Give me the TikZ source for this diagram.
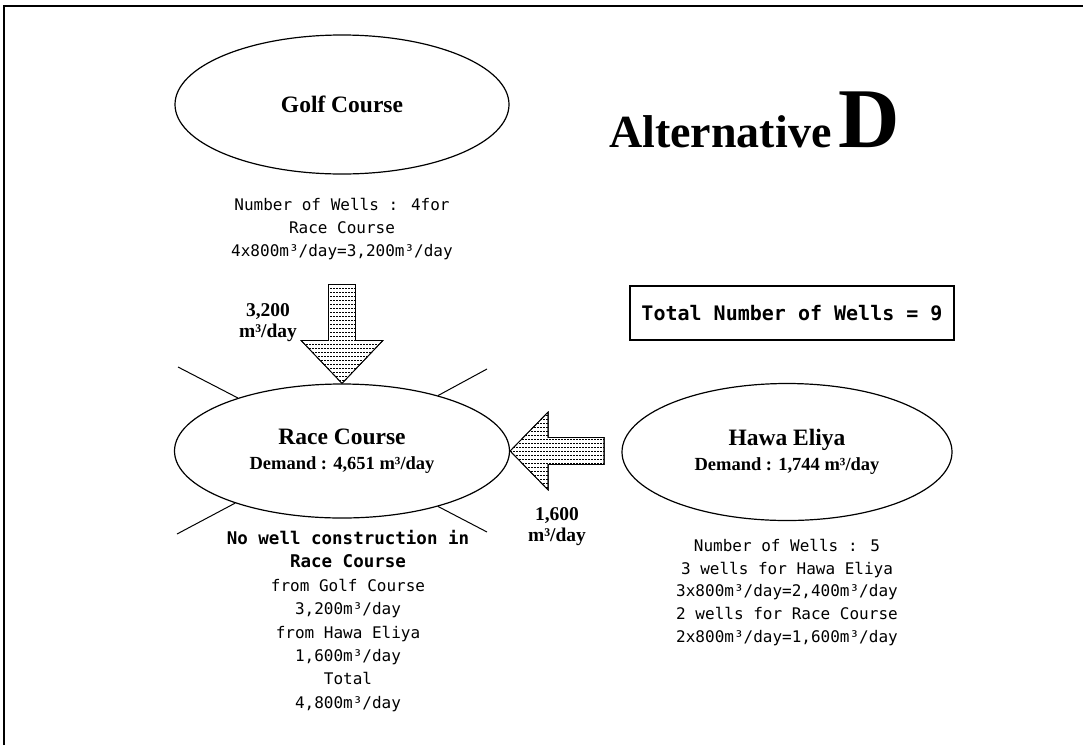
\documentclass[tikz,border=0pt]{standalone}
\usepackage{fontspec}
\usetikzlibrary{shapes.geometric}
\setmainfont{Liberation Serif}
\newfontfamily\gulim{DejaVu Sans Mono}
\begin{document}
\begin{tikzpicture}[x=1pt,y=-1pt,
  place/.style={draw, ellipse, line width=1.2pt, inner sep=0pt, align=center,
    font=\bfseries\fontsize{18.5}{25}\selectfont},
  info/.style={align=center, font=\gulim\fontsize{16}{23.4}\selectfont},
  flowlabel/.style={align=center, font=\bfseries\fontsize{19.5}{21}\selectfont},
  blockarrow/.style={draw, line width=0.8pt, fill=white},
  hatch/.style={line width=0.4pt, dash pattern=on 2pt off 1pt},
  ray/.style={line width=1pt}]
\useasboundingbox (0,0) rectangle (1083,745);

% page frame
\draw[line width=2pt] (4,745) -- (4,6) -- (1083,6);

% heading
\node[anchor=base west, inner sep=0pt] (heading) at (609,147)
  {\bfseries{\fontsize{46}{50}\selectfont Alternative}\hspace{7pt}{\fontsize{85}{90}\selectfont D}};

% sites
\node[place, minimum width=334pt, minimum height=139pt] (golf) at (342,104.5)
  {{\fontsize{23.5}{25}\selectfont Golf Course}};
\node[place, minimum width=335pt, minimum height=134pt] (race) at (342,451)
  {{\fontsize{23.5}{25}\selectfont Race Course}\\
   Demand : 4,651 m³/day};
\node[place, minimum width=330pt, minimum height=137pt] (hawa) at (787,452)
  {{\fontsize{23.5}{25}\selectfont Hawa Eliya}\\
   Demand : 1,744 m³/day};

% well summaries
\node[info] (golfinfo) at (342,229)
  {Number of Wells : 4for\\Race Course\\4x800m³/day=3,200m³/day};
\node[info] (raceinfo) at (348,621)
  {{\bfseries\fontsize{17.5}{23.4}\selectfont No well construction in}\\
   {\bfseries\fontsize{17.5}{23.4}\selectfont Race Course}\\
   from Golf Course\\3,200m³/day\\from Hawa Eliya\\1,600m³/day\\Total\\4,800m³/day};
\node[info, font=\gulim\fontsize{16}{22.8}\selectfont] (hawainfo) at (787,592.5)
  {Number of Wells : 5\\3 wells for Hawa Eliya\\3x800m³/day=2,400m³/day\\
   2 wells for Race Course\\2x800m³/day=1,600m³/day};

% total
\node[draw, line width=1.2pt, minimum width=324pt, minimum height=54pt, inner sep=0pt,
      font=\gulim\bfseries\fontsize{20}{22}\selectfont] (total) at (792,313)
  {Total Number of Wells = 9};

% flow from Golf Course to Race Course
\begin{scope}[shift={(race.north)}]
  \path[blockarrow] (0,0) -- (41,-43) -- (13.5,-43) -- (13.5,-99)
      -- (-13.5,-99) -- (-13.5,-43) -- (-41,-43) -- cycle;
  \begin{scope}
    \clip (0,0) -- (41,-43) -- (13.5,-43) -- (13.5,-99)
      -- (-13.5,-99) -- (-13.5,-43) -- (-41,-43) -- cycle;
    \foreach \k in {1,...,25} \draw[hatch] (-45,-\k*4+1) -- (45,-\k*4+1);
  \end{scope}
  \draw[line width=0.8pt] (0,0) -- (41,-43) -- (13.5,-43) -- (13.5,-99)
      -- (-13.5,-99) -- (-13.5,-43) -- (-41,-43) -- cycle;
\end{scope}
\node[flowlabel] (golfflow) at (268,323) {3,200\\m³/day};

% flow from Hawa Eliya to Race Course
\begin{scope}[shift={(race.east)}]
  \path[blockarrow] (0,0) -- (38,-39) -- (38,-13.5) -- (94,-13.5)
      -- (94,13.5) -- (38,13.5) -- (38,39) -- cycle;
  \begin{scope}
    \clip (0,0) -- (38,-39) -- (38,-13.5) -- (94,-13.5)
      -- (94,13.5) -- (38,13.5) -- (38,39) -- cycle;
    \foreach \k in {-10,...,10} \draw[hatch] (0,\k*4) -- (100,\k*4);
  \end{scope}
  \draw[line width=0.8pt] (0,0) -- (38,-39) -- (38,-13.5) -- (94,-13.5)
      -- (94,13.5) -- (38,13.5) -- (38,39) -- cycle;
\end{scope}
\node[flowlabel] (hawaflow) at (557,527) {1,600\\m³/day};

% rays round Race Course
\coordinate (rul) at (178,367);
\coordinate (rur) at (487,369);
\coordinate (rll) at (177,534);
\coordinate (rlr) at (487,532);
\draw[ray] (race.153) -- (rul);
\draw[ray] (race.30) -- (rur);
\draw[ray] (race.206) -- (rll);
\draw[ray] (race.330) -- (rlr);
\end{tikzpicture}
\end{document}
